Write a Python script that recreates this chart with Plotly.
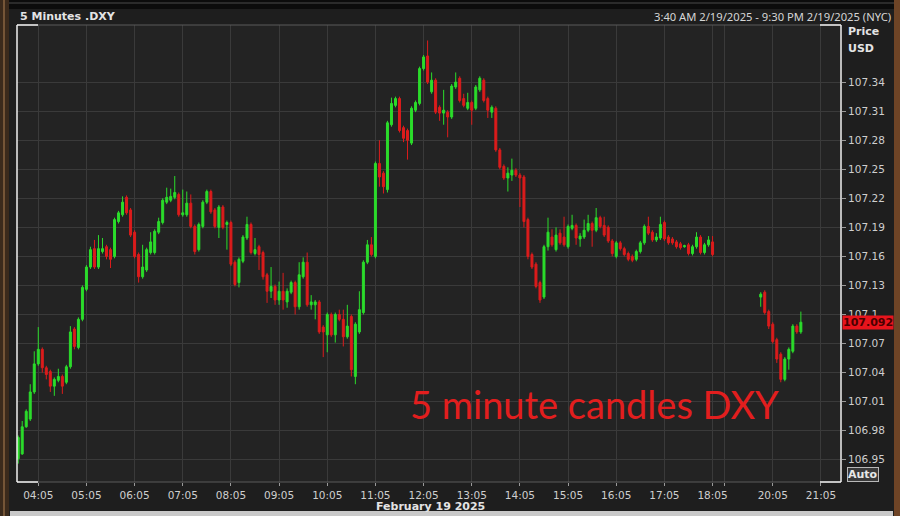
import plotly.graph_objects as go
import pandas as pd

DAY = "2025-02-19"

times = [
    "03:40", "03:45", "03:50", "03:55",
    "04:00", "04:05", "04:10", "04:15", "04:20", "04:25", "04:30", "04:35", "04:40", "04:45", "04:50", "04:55",
    "05:00", "05:05", "05:10", "05:15", "05:20", "05:25", "05:30", "05:35", "05:40", "05:45", "05:50", "05:55",
    "06:00", "06:05", "06:10", "06:15", "06:20", "06:25", "06:30", "06:35", "06:40", "06:45", "06:50", "06:55",
    "07:00", "07:05", "07:10", "07:15", "07:20", "07:25", "07:30", "07:35", "07:40", "07:45", "07:50", "07:55",
    "08:00", "08:05", "08:10", "08:15", "08:20", "08:25", "08:30", "08:35", "08:40", "08:45", "08:50", "08:55",
    "09:00", "09:05", "09:10", "09:15", "09:20", "09:25", "09:30", "09:35", "09:40", "09:45", "09:50", "09:55",
    "10:00", "10:05", "10:10", "10:15", "10:20", "10:25", "10:30", "10:35", "10:40", "10:45", "10:50", "10:55",
    "11:00", "11:05", "11:10", "11:15", "11:20", "11:25", "11:30", "11:35", "11:40", "11:45", "11:50", "11:55",
    "12:00", "12:05", "12:10", "12:15", "12:20", "12:25", "12:30", "12:35", "12:40", "12:45", "12:50", "12:55",
    "13:00", "13:05", "13:10", "13:15", "13:20", "13:25", "13:30", "13:35", "13:40", "13:45", "13:50", "13:55",
    "14:00", "14:05", "14:10", "14:15", "14:20", "14:25", "14:30", "14:35", "14:40", "14:45", "14:50", "14:55",
    "15:00", "15:05", "15:10", "15:15", "15:20", "15:25", "15:30", "15:35", "15:40", "15:45", "15:50", "15:55",
    "16:00", "16:05", "16:10", "16:15", "16:20", "16:25", "16:30", "16:35", "16:40", "16:45", "16:50", "16:55",
    "17:00", "17:05", "17:10", "17:15", "17:20", "17:25", "17:30", "17:35", "17:40", "17:45", "17:50", "17:55",
    "18:00", "18:05",
    "19:50", "19:55", "20:00", "20:05", "20:10", "20:15", "20:20", "20:25", "20:30", "20:35", "20:40",
]

opens = [
    106.951, 106.956, 106.984, 106.992,
    107.020, 107.049, 107.064, 107.045, 107.041, 107.026, 107.032, 107.036, 107.030, 107.046, 107.085, 107.066,
    107.095, 107.126, 107.149, 107.168, 107.149, 107.165, 107.170, 107.167, 107.160, 107.196, 107.203, 107.221,
    107.208, 107.185, 107.162, 107.139, 107.146, 107.164, 107.164, 107.185, 107.195, 107.216, 107.218, 107.221,
    107.224, 107.203, 107.203, 107.215, 107.191, 107.167, 107.191, 107.216, 107.227, 107.208, 107.190, 107.211,
    107.193, 107.195, 107.154, 107.133, 107.155, 107.179, 107.193, 107.163, 107.170, 107.164, 107.141, 107.124,
    107.129, 107.115, 107.124, 107.113, 107.123, 107.133, 107.108, 107.139, 107.154, 107.110, 107.110, 107.113,
    107.087, 107.079, 107.100, 107.079, 107.100, 107.095, 107.077, 107.098, 107.036, 107.082, 107.102, 107.154,
    107.172, 107.160, 107.256, 107.246, 107.229, 107.296, 107.316, 107.323, 107.293, 107.290, 107.277, 107.311,
    107.318, 107.354, 107.367, 107.330, 107.342, 107.314, 107.308, 107.309, 107.304, 107.335, 107.344, 107.323,
    107.313, 107.319, 107.313, 107.332, 107.342, 107.323, 107.309, 107.313, 107.270, 107.253, 107.241, 107.244,
    107.249, 107.244, 107.242, 107.198, 107.162, 107.152, 107.133, 107.118, 107.170, 107.180, 107.167, 107.184,
    107.180, 107.170, 107.189, 107.192, 107.178, 107.180, 107.187, 107.194, 107.187, 107.200, 107.192, 107.190,
    107.176, 107.160, 107.174, 107.168, 107.163, 107.160, 107.157, 107.165, 107.174, 107.191, 107.185, 107.177,
    107.179, 107.195, 107.180, 107.178, 107.175, 107.173, 107.170, 107.172, 107.163, 107.170, 107.180, 107.164,
    107.172, 107.175,
    107.118, 107.123, 107.103, 107.090, 107.074, 107.059, 107.033, 107.054, 107.062, 107.088, 107.082,
]

highs = [
    106.975, 106.990, 107.002, 107.028,
    107.062, 107.087, 107.066, 107.047, 107.043, 107.035, 107.044, 107.038, 107.048, 107.088, 107.087, 107.097,
    107.130, 107.151, 107.170, 107.177, 107.182, 107.179, 107.172, 107.169, 107.200, 107.207, 107.222, 107.223,
    107.210, 107.187, 107.164, 107.172, 107.169, 107.185, 107.188, 107.200, 107.220, 107.231, 107.230, 107.243,
    107.226, 107.229, 107.227, 107.224, 107.193, 107.195, 107.218, 107.229, 107.229, 107.210, 107.213, 107.213,
    107.197, 107.197, 107.156, 107.159, 107.182, 107.201, 107.195, 107.179, 107.172, 107.166, 107.143, 107.149,
    107.131, 107.134, 107.143, 107.127, 107.135, 107.135, 107.154, 107.159, 107.164, 107.120, 107.115, 107.115,
    107.089, 107.102, 107.102, 107.102, 107.105, 107.105, 107.110, 107.100, 107.092, 107.124, 107.156, 107.177,
    107.180, 107.258, 107.280, 107.248, 107.300, 107.324, 107.325, 107.325, 107.295, 107.292, 107.315, 107.321,
    107.356, 107.368, 107.383, 107.350, 107.344, 107.316, 107.332, 107.311, 107.338, 107.350, 107.346, 107.328,
    107.329, 107.321, 107.337, 107.346, 107.344, 107.325, 107.316, 107.315, 107.272, 107.255, 107.252, 107.261,
    107.251, 107.246, 107.244, 107.200, 107.164, 107.154, 107.135, 107.172, 107.200, 107.188, 107.190, 107.188,
    107.201, 107.193, 107.203, 107.194, 107.184, 107.198, 107.203, 107.196, 107.210, 107.202, 107.201, 107.192,
    107.178, 107.176, 107.176, 107.170, 107.165, 107.162, 107.167, 107.176, 107.193, 107.201, 107.187, 107.184,
    107.201, 107.197, 107.182, 107.180, 107.177, 107.175, 107.172, 107.174, 107.172, 107.185, 107.182, 107.174,
    107.181, 107.181,
    107.123, 107.125, 107.105, 107.092, 107.076, 107.061, 107.056, 107.066, 107.090, 107.090, 107.103,
]

lows = [
    106.946, 106.955, 106.983, 106.990,
    107.018, 107.047, 107.040, 107.033, 107.020, 107.016, 107.030, 107.018, 107.028, 107.044, 107.064, 107.064,
    107.093, 107.124, 107.147, 107.147, 107.147, 107.163, 107.157, 107.148, 107.158, 107.194, 107.201, 107.203,
    107.180, 107.158, 107.133, 107.137, 107.144, 107.162, 107.162, 107.183, 107.193, 107.214, 107.216, 107.219,
    107.201, 107.201, 107.201, 107.189, 107.162, 107.165, 107.189, 107.214, 107.204, 107.189, 107.179, 107.188,
    107.167, 107.150, 107.129, 107.128, 107.153, 107.177, 107.162, 107.161, 107.146, 107.136, 107.112, 107.117,
    107.110, 107.110, 107.105, 107.107, 107.121, 107.100, 107.105, 107.137, 107.108, 107.105, 107.095, 107.080,
    107.056, 107.061, 107.077, 107.071, 107.093, 107.067, 107.075, 107.036, 107.028, 107.080, 107.100, 107.152,
    107.160, 107.158, 107.232, 107.225, 107.226, 107.294, 107.314, 107.288, 107.278, 107.260, 107.275, 107.309,
    107.316, 107.352, 107.338, 107.328, 107.307, 107.300, 107.296, 107.283, 107.302, 107.333, 107.319, 107.314,
    107.311, 107.296, 107.311, 107.330, 107.319, 107.303, 107.303, 107.268, 107.250, 107.239, 107.227, 107.238,
    107.242, 107.211, 107.190, 107.157, 107.147, 107.127, 107.112, 107.116, 107.166, 107.170, 107.165, 107.172,
    107.170, 107.168, 107.187, 107.172, 107.170, 107.178, 107.185, 107.170, 107.185, 107.189, 107.180, 107.174,
    107.160, 107.158, 107.166, 107.160, 107.155, 107.154, 107.155, 107.163, 107.172, 107.182, 107.175, 107.175,
    107.177, 107.176, 107.172, 107.172, 107.168, 107.167, 107.169, 107.161, 107.161, 107.168, 107.162, 107.162,
    107.170, 107.160,
    107.108, 107.100, 107.085, 107.070, 107.050, 107.030, 107.031, 107.043, 107.060, 107.080, 107.080,
]

closes = [
    106.973, 106.984, 107.000, 107.020,
    107.049, 107.064, 107.045, 107.038, 107.026, 107.033, 107.036, 107.026, 107.046, 107.082, 107.067, 107.095,
    107.128, 107.149, 107.167, 107.149, 107.168, 107.168, 107.160, 107.157, 107.198, 107.205, 107.216, 107.205,
    107.182, 107.160, 107.139, 107.149, 107.167, 107.175, 107.186, 107.196, 107.218, 107.221, 107.222, 107.226,
    107.203, 107.205, 107.215, 107.191, 107.165, 107.193, 107.216, 107.227, 107.206, 107.191, 107.211, 107.190,
    107.195, 107.152, 107.131, 107.157, 107.180, 107.193, 107.164, 107.167, 107.162, 107.139, 107.124, 107.129,
    107.115, 107.124, 107.115, 107.124, 107.133, 107.108, 107.141, 107.154, 107.110, 107.113, 107.113, 107.082,
    107.082, 107.100, 107.079, 107.100, 107.095, 107.077, 107.088, 107.043, 107.090, 107.105, 107.154, 107.172,
    107.162, 107.256, 107.242, 107.232, 107.298, 107.318, 107.323, 107.290, 107.282, 107.280, 107.313, 107.319,
    107.354, 107.366, 107.340, 107.342, 107.309, 107.308, 107.311, 107.304, 107.336, 107.340, 107.321, 107.316,
    107.319, 107.311, 107.335, 107.344, 107.321, 107.311, 107.314, 107.270, 107.252, 107.241, 107.246, 107.249,
    107.244, 107.241, 107.196, 107.160, 107.149, 107.129, 107.115, 107.170, 107.185, 107.172, 107.182, 107.174,
    107.172, 107.191, 107.192, 107.179, 107.181, 107.187, 107.194, 107.187, 107.200, 107.191, 107.182, 107.176,
    107.163, 107.174, 107.168, 107.162, 107.157, 107.156, 107.165, 107.174, 107.191, 107.184, 107.177, 107.180,
    107.193, 107.178, 107.174, 107.174, 107.170, 107.169, 107.171, 107.163, 107.170, 107.180, 107.164, 107.172,
    107.177, 107.162,
    107.121, 107.102, 107.088, 107.072, 107.054, 107.033, 107.054, 107.064, 107.088, 107.082, 107.092,
]

last_price = 107.092

y_tick_vals = [106.95, 106.98, 107.01, 107.04, 107.07, 107.10, 107.13, 107.16, 107.19, 107.22, 107.25, 107.28, 107.31, 107.34]
y_tick_text = ["106.95", "106.98", "107.01", "107.04", "107.07", "107.1", "107.13", "107.16", "107.19", "107.22", "107.25", "107.28", "107.31", "107.34"]

x_tick_times = ["04:05", "05:05", "06:05", "07:05", "08:05", "09:05", "10:05", "11:05", "12:05",
                "13:05", "14:05", "15:05", "16:05", "17:05", "18:05", "19:05", "20:05", "21:05"]
x_tick_text = ["04:05", "05:05", "06:05", "07:05", "08:05", "09:05", "10:05", "11:05", "12:05",
               "13:05", "14:05", "15:05", "16:05", "17:05", "18:05", "", "20:05", "21:05"]

assert len(times) == len(opens) == len(highs) == len(lows) == len(closes)

x = pd.to_datetime([f"{DAY} {t}" for t in times])
x_ticks = [f"{DAY} {t}" for t in x_tick_times]

GREEN = "#2bdc2b"
RED = "#dc1c1c"

fig = go.Figure(go.Candlestick(
    x=x, open=opens, high=highs, low=lows, close=closes,
    increasing=dict(line=dict(color=GREEN, width=1), fillcolor=GREEN),
    decreasing=dict(line=dict(color=RED, width=1), fillcolor=RED),
    whiskerwidth=0, showlegend=False, hoverinfo="skip",
))

# Layout geometry (pixels)
W, H = 900, 516
L, R, T, B = 17, 841, 25, 482


def px(xp):
    return (xp - L) / (R - L)


def py(yp):
    return (B - yp) / (B - T)


shapes = []
# outer frame decorations
shapes.append(dict(type="rect", xref="paper", yref="paper", x0=px(0), x1=px(9), y0=py(516), y1=py(0),
                   fillcolor="#3b2a1c", line=dict(width=0), layer="below"))
shapes.append(dict(type="line", xref="paper", yref="paper", x0=px(4), x1=px(4), y0=py(516), y1=py(0),
                   line=dict(color="#8a6440", width=1.5)))
shapes.append(dict(type="rect", xref="paper", yref="paper", x0=px(894), x1=px(900), y0=py(516), y1=py(0),
                   fillcolor="#6e4426", line=dict(width=0), layer="below"))
shapes.append(dict(type="rect", xref="paper", yref="paper", x0=px(9), x1=px(894), y0=py(9), y1=py(0),
                   fillcolor="#0c0c0c", line=dict(width=0), layer="below"))
shapes.append(dict(type="line", xref="paper", yref="paper", x0=px(9), x1=px(894), y0=py(3), y1=py(3),
                   line=dict(color="#4a4a4a", width=1)))
shapes.append(dict(type="rect", xref="paper", yref="paper", x0=px(10), x1=px(893), y0=py(516), y1=py(511),
                   fillcolor="#c9c9c9", line=dict(width=0)))
# plot frame
shapes.append(dict(type="line", xref="paper", yref="paper", x0=0, x1=1, y0=1, y1=1,
                   line=dict(color="#5a5a5a", width=1)))
shapes.append(dict(type="line", xref="paper", yref="paper", x0=0, x1=1, y0=0, y1=0,
                   line=dict(color="#5a5a5a", width=1)))
for (a, b) in [(17, 38), (820, 841)]:
    for yy in (0, 1):
        shapes.append(dict(type="line", xref="paper", yref="paper", x0=px(a), x1=px(b), y0=yy, y1=yy,
                           line=dict(color="#f0f0f0", width=1.5)))
shapes.append(dict(type="line", xref="paper", yref="paper", x0=0, x1=0, y0=0, y1=1,
                   line=dict(color="#f0f0f0", width=1.5)))
shapes.append(dict(type="line", xref="paper", yref="paper", x0=1, x1=1, y0=0, y1=1,
                   line=dict(color="#f0f0f0", width=1.5)))

annotations = [
    dict(text="<b>5 Minutes .DXY</b>", xref="paper", yref="paper", x=px(18), y=py(16),
         xanchor="left", yanchor="middle", showarrow=False,
         font=dict(family="DejaVu Sans", size=11, color="#e4e4e4")),
    dict(text="3:40 AM 2/19/2025 - 9:30 PM 2/19/2025 (NYC)", xref="paper", yref="paper", x=px(893), y=py(16),
         xanchor="right", yanchor="middle", showarrow=False,
         font=dict(family="Noto Sans", size=11.2, color="#d6d6d6")),
    dict(text="<b>Price</b>", xref="paper", yref="paper", x=px(846), y=py(32),
         xanchor="left", yanchor="middle", showarrow=False,
         font=dict(family="DejaVu Sans", size=11, color="#e4e4e4")),
    dict(text="<b>USD</b>", xref="paper", yref="paper", x=px(846), y=py(48),
         xanchor="left", yanchor="middle", showarrow=False,
         font=dict(family="DejaVu Sans", size=11, color="#e4e4e4")),
    dict(text="<b>February 19 2025</b>", xref="paper", yref="paper", x=px(430), y=py(506),
         xanchor="center", yanchor="middle", showarrow=False,
         font=dict(family="DejaVu Sans", size=11, color="#e4e4e4")),
    dict(text="<b>Auto</b>", xref="paper", yref="paper", x=px(863), y=py(474),
         xanchor="center", yanchor="middle", showarrow=False,
         bgcolor="#3a3a3a", bordercolor="#b8b8b8", borderwidth=1, borderpad=0,
         font=dict(family="DejaVu Sans", size=11, color="#e8e8e8")),
    dict(text=f"<b>{last_price:.3f}</b>", xref="paper", yref="y", x=px(842), y=last_price,
         xanchor="left", yanchor="middle", showarrow=False,
         bgcolor="#e8141c", borderpad=0,
         font=dict(family="DejaVu Sans", size=11, color="#4a0000")),
    dict(text="5 minute candles DXY", xref="paper", yref="paper", x=px(594), y=py(404),
         xanchor="center", yanchor="middle", showarrow=False,
         font=dict(family="Lato", size=38, color="#e21e1e")),
]

fig.update_layout(
    width=W, height=H,
    margin=dict(l=L, r=W - R, t=T, b=H - B, pad=0),
    paper_bgcolor="#1e1e1e",
    plot_bgcolor="#232323",
    showlegend=False,
    shapes=shapes,
    annotations=annotations,
    xaxis=dict(
        type="date",
        range=[f"{DAY} 03:38:30", f"{DAY} 21:30"],
        rangebreaks=[dict(values=[f"{DAY} 18:20:00"], dvalue=45 * 60 * 1000)],
        rangeslider=dict(visible=False),
        tickmode="array", tickvals=x_ticks, ticktext=x_tick_text,
        ticks="outside", ticklen=3, tickcolor="#9a9a9a",
        showgrid=True, gridcolor="#3a3a3a", gridwidth=1,
        zeroline=False, showline=False,
        tickfont=dict(family="DejaVu Sans", size=10.5, color="#cfcfcf"),
    ),
    yaxis=dict(
        side="right",
        range=[106.927, 107.399],
        tickmode="array", tickvals=y_tick_vals, ticktext=y_tick_text,
        ticks="outside", ticklen=4, tickcolor="#9a9a9a",
        showgrid=True, gridcolor="#3a3a3a", gridwidth=1,
        zeroline=False, showline=False,
        tickfont=dict(family="DejaVu Sans", size=10.5, color="#cfcfcf"),
    ),
)

fig.write_html(
    "out.html",
    config={"displayModeBar": False},
    post_script="document.body.style.margin='0px';document.body.style.background='#1e1e1e';",
)
